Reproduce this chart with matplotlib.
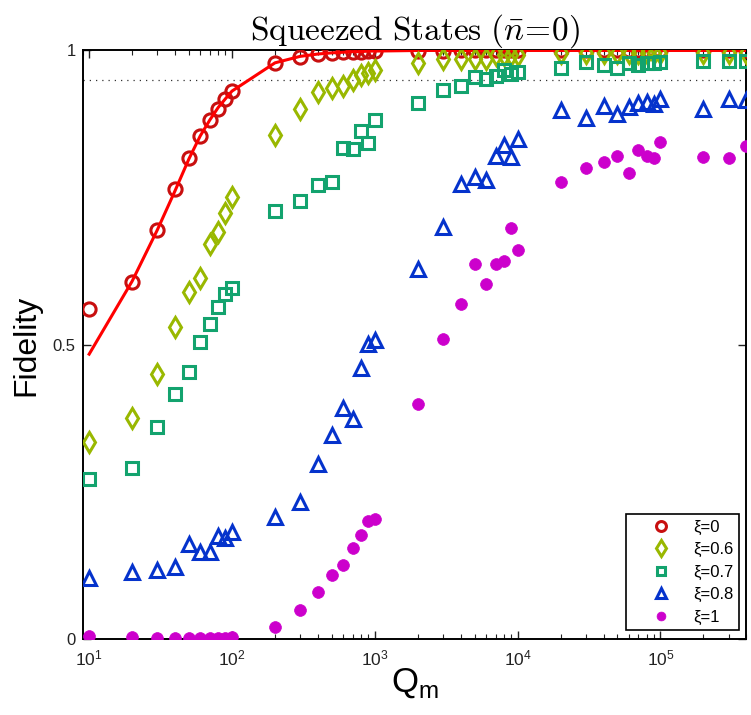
import matplotlib
matplotlib.use("Agg")
import matplotlib.pyplot as plt
from matplotlib.ticker import FixedLocator, FixedFormatter, LogLocator, NullFormatter

plt.rcParams['font.family'] = ['Liberation Sans', 'DejaVu Sans']

# Mechanical quality factor values
q_m = [10, 20, 30, 40, 50, 60, 70, 80, 90, 100,
       200, 300, 400, 500, 600, 700, 800, 900, 1000,
       2000, 3000, 4000, 5000, 6000, 7000, 8000, 9000, 10000,
       20000, 30000, 40000, 50000, 60000, 70000, 80000, 90000, 100000,
       200000, 300000, 400000]

# Fidelity for each squeezing parameter
fid_xi0 = [0.561, 0.606, 0.695, 0.764, 0.818, 0.854, 0.882, 0.901, 0.918, 0.931,
           0.978, 0.989, 0.994, 0.996, 0.997, 0.998, 0.998, 0.999, 0.999,
           0.999, 0.999, 1.0, 1.0, 1.0, 1.0, 1.0, 1.0, 1.0,
           1.0, 1.0, 1.0, 1.0, 1.0, 1.0, 1.0, 1.0, 1.0,
           1.0, 1.0, 1.0]
fid_xi06 = [0.334, 0.375, 0.451, 0.530, 0.590, 0.614, 0.672, 0.691, 0.724, 0.751,
            0.857, 0.901, 0.929, 0.936, 0.940, 0.950, 0.958, 0.961, 0.967,
            0.979, 0.985, 0.986, 0.985, 0.985, 0.992, 0.992, 0.993, 0.993,
            0.995, 0.995, 0.995, 0.995, 0.995, 0.995, 0.995, 0.995, 0.995,
            0.995, 0.995, 0.995]
fid_xi07 = [0.272, 0.291, 0.360, 0.416, 0.454, 0.505, 0.535, 0.564, 0.587, 0.597,
            0.727, 0.745, 0.772, 0.776, 0.835, 0.832, 0.863, 0.842, 0.882,
            0.910, 0.933, 0.939, 0.955, 0.952, 0.956, 0.967, 0.960, 0.964,
            0.971, 0.980, 0.976, 0.971, 0.978, 0.976, 0.978, 0.978, 0.980,
            0.982, 0.982, 0.982]
fid_xi08 = [0.103, 0.113, 0.117, 0.123, 0.161, 0.147, 0.148, 0.175, 0.172, 0.182,
            0.207, 0.233, 0.297, 0.347, 0.393, 0.373, 0.461, 0.501, 0.508,
            0.628, 0.700, 0.773, 0.785, 0.780, 0.820, 0.839, 0.819, 0.849,
            0.899, 0.886, 0.905, 0.892, 0.904, 0.911, 0.913, 0.909, 0.918,
            0.901, 0.917, 0.916]
fid_xi1 = [0.005, 0.004, 0.002, 0.001, 0.001, 0.001, 0.001, 0.002, 0.002, 0.003,
           0.020, 0.050, 0.080, 0.109, 0.126, 0.154, 0.176, 0.200, 0.204,
           0.399, 0.510, 0.569, 0.637, 0.604, 0.638, 0.642, 0.698, 0.661,
           0.776, 0.801, 0.811, 0.820, 0.791, 0.831, 0.821, 0.818, 0.844,
           0.819, 0.817, 0.838]

# Theory curve for xi = 0
fit_xi0 = [0.484, 0.608, 0.695, 0.762, 0.816, 0.855, 0.882, 0.903, 0.918, 0.931,
           0.979, 0.990, 0.994, 0.996, 0.997, 0.998, 0.998, 0.999, 0.999,
           1.0, 1.0, 1.0, 1.0, 1.0, 1.0, 1.0, 1.0, 1.0,
           1.0, 1.0, 1.0, 1.0, 1.0, 1.0, 1.0, 1.0, 1.0,
           1.0, 1.0, 1.0]

threshold = 0.95
y_ticks = [0, 0.5, 1]
y_tick_labels = ['0', '0.5', '1']
legend_labels = ['ξ=0', 'ξ=0.6', 'ξ=0.7', 'ξ=0.8', 'ξ=1']

fig = plt.figure(figsize=(7.51, 7.15), dpi=100)
ax = fig.add_axes([0.110, 0.1063, 0.884, 0.8231])

ax.axhline(threshold, color='#333333', lw=0.9, ls=(0, (1, 4)), zorder=1)

h0, = ax.plot(q_m, fid_xi0, ls='none', marker='o', ms=9.5, mfc='none',
              mec='#c80f0f', mew=2.2, zorder=3)
h1, = ax.plot(q_m, fid_xi06, ls='none', marker='d', ms=10.5, mfc='none',
              mec='#99b800', mew=2.2, zorder=4)
h2, = ax.plot(q_m, fid_xi07, ls='none', marker='s', ms=8, mfc='none',
              mec='#13a36e', mew=2.2, zorder=4)
h3, = ax.plot(q_m, fid_xi08, ls='none', marker='^', ms=10, mfc='none',
              mec='#0533cc', mew=2.2, zorder=4)
h4, = ax.plot(q_m, fid_xi1, ls='none', marker='o', ms=8.5, mfc='#cc00cc',
              mec='#cc00cc', mew=0.5, zorder=4)
ax.plot(q_m, fit_xi0, color='#ff0000', lw=2.2, zorder=3.5)

ax.set_xscale('log')
ax.set_xlim(9, 4e5)
ax.set_ylim(0, 1)

ax.xaxis.set_major_locator(LogLocator(base=10, numticks=10))
ax.xaxis.set_minor_locator(LogLocator(base=10, subs=range(2, 10), numticks=20))
ax.xaxis.set_minor_formatter(NullFormatter())
ax.yaxis.set_major_locator(FixedLocator(y_ticks))
ax.yaxis.set_major_formatter(FixedFormatter(y_tick_labels))
ax.yaxis.set_minor_locator(FixedLocator([]))

ax.tick_params(which='both', direction='in', top=True, right=True,
               labelsize=12, colors='#222222')
ax.tick_params(which='major', length=6, width=1.0)
ax.tick_params(which='minor', length=3.5, width=0.8)
ax.tick_params(axis='x', pad=7, labelsize=12.5)
ax.tick_params(axis='y', pad=5)
for sp in ax.spines.values():
    sp.set_linewidth(1.4)
    sp.set_color('black')

ax.set_title(r'$\mathrm{Squeezed\ States\ (}\bar{n}\!=\!\mathrm{0)}$',
             math_fontfamily='cm', fontsize=24, pad=3)
ax.set_ylabel('Fidelity', fontsize=23, va='center')
ax.yaxis.set_label_coords(-0.0854, 0.4994)
ax.set_xlabel(r'$\mathdefault{Q}_{\mathdefault{m}}$', fontsize=25, va='center')
ax.xaxis.set_label_coords(0.5, -0.075)

leg = ax.legend([h0, h1, h2, h3, h4], legend_labels, loc='lower right',
                bbox_to_anchor=(0.988, 0.015), borderaxespad=0, fontsize=12,
                frameon=True, fancybox=False, edgecolor='black', framealpha=1,
                numpoints=1, markerscale=0.75, handlelength=3.6,
                handletextpad=0.1, labelspacing=0.45, borderpad=0.32)
leg.get_frame().set_linewidth(1.2)

fig.savefig('out.png', dpi=100)
